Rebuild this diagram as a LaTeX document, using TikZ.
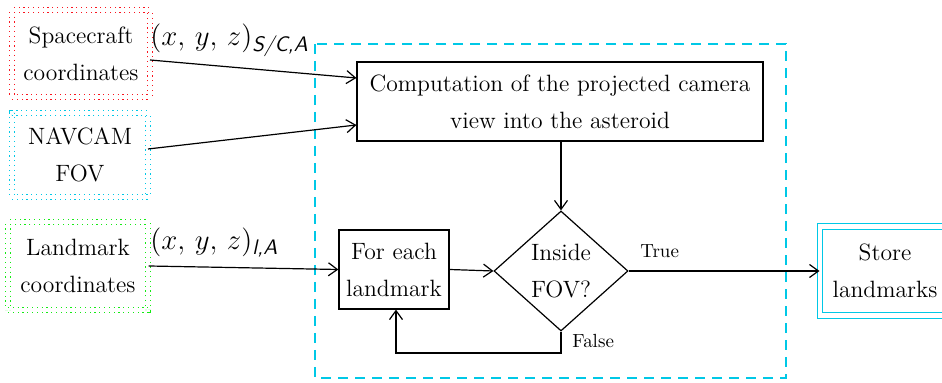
\documentclass[tikz,border=0pt]{standalone}
\usetikzlibrary{shapes.geometric,arrows.meta}
\definecolor{frameblue}{RGB}{0,200,230}
\definecolor{dotred}{RGB}{250,20,30}
\definecolor{dotgreen}{RGB}{20,235,20}
\newcommand{\framesub}[1]{\hbox{\fontsize{10.5}{11}\sffamily\itshape #1}}
\tikzset{
  txt/.style={font=\fontsize{11.8}{18.5}\selectfont, align=center},
  inbox/.style={txt, draw, double=white, double distance=1.6pt, line width=0.6pt,
    dash pattern=on 0.6pt off 1.8pt, inner sep=0pt},
  procbox/.style={txt, draw, line width=0.6pt, inner sep=0pt},
  decide/.style={txt, draw, diamond, line width=0.6pt, inner sep=0pt},
  flow/.style={line width=0.6pt, -{Straight Barb[length=4.5pt,width=6.5pt]}},
  lab/.style={font=\fontsize{9.5}{11}\selectfont, inner sep=0pt},
  mlab/.style={font=\fontsize{13.5}{15}\selectfont, inner sep=0pt},
}
\begin{document}
\begin{tikzpicture}[x=0.5pt,y=-0.5pt]
\useasboundingbox (0,0) rectangle (942,383);

% process frame
\draw[frameblue, line width=0.6pt, dash pattern=on 5pt off 3.5pt] (315,44) rectangle (786,378);

% inputs
\node[inbox, draw=dotred, minimum width=69pt, minimum height=43.5pt] (sc) at (81,53.5)
  {Spacecraft\\coordinates};
\node[inbox, draw=frameblue, minimum width=68pt, minimum height=42pt] (cam) at (80,155)
  {NAVCAM\\FOV};
\node[inbox, draw=dotgreen, minimum width=70pt, minimum height=44pt] (lm) at (78,266)
  {Landmark\\coordinates};

% processing steps
\node[procbox, minimum width=203pt, minimum height=39.5pt] (proj) at (560,101.5)
  {Computation of the projected camera\\view into the asteroid};
\node[procbox, minimum width=55pt, minimum height=39.5pt] (each) at (394,269.5)
  {For each\\landmark};
\node[decide, minimum width=67pt, minimum height=60pt] (fov) at (561,271)
  {Inside\\FOV?};
\node[txt, draw=frameblue, double=white, double distance=2.3pt, line width=0.5pt,
  inner sep=0pt, minimum width=65pt, minimum height=44.5pt] (store) at (885,271)
  {Store\\landmarks};

% connectors
\coordinate (scout) at (150,60);
\coordinate (camout) at (148,149);
\draw[flow] (scout) -- (proj.west |- 0,78);
\draw[flow] (camout) -- (proj.west |- 0,125);
\draw[flow] (lm.east) -- (each.west);
\draw[flow] (each.east) -- (fov.west);
\draw[flow] (proj.south -| fov.north) -- (fov.north);
\draw[flow] (fov.east) -- (store.west);
\coordinate (back) at (396,353);
\draw[flow] (fov.south) |- (back) -- (each.south -| back);

% labels
\node[mlab, anchor=base west] (sclab) at (150,46) {$(x,\,y,\,z)_{\framesub{S/C,A}}$};
\node[mlab, anchor=base west] (lmlab) at (150,250) {$(x,\,y,\,z)_{\framesub{l,A}}$};
\node[lab, anchor=base west] (tlab) at (640,258) {True};
\node[lab, anchor=base west] (flab) at (572,348) {False};
\end{tikzpicture}
\end{document}
